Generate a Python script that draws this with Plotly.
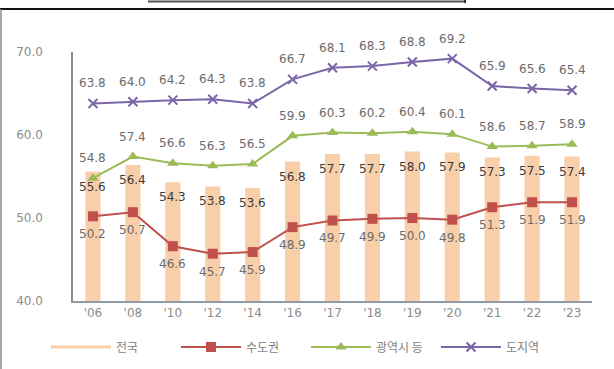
import plotly.graph_objects as go

# Survey years
years = ["'06", "'08", "'10", "'12", "'14", "'16", "'17", "'18", "'19", "'20", "'21", "'22", "'23"]

# Rates by region (%)
nationwide = [55.6, 56.4, 54.3, 53.8, 53.6, 56.8, 57.7, 57.7, 58.0, 57.9, 57.3, 57.5, 57.4]
capital_area = [50.2, 50.7, 46.6, 45.7, 45.9, 48.9, 49.7, 49.9, 50.0, 49.8, 51.3, 51.9, 51.9]
metro_cities = [54.8, 57.4, 56.6, 56.3, 56.5, 59.9, 60.3, 60.2, 60.4, 60.1, 58.6, 58.7, 58.9]
provinces = [63.8, 64.0, 64.2, 64.3, 63.8, 66.7, 68.1, 68.3, 68.8, 69.2, 65.9, 65.6, 65.4]

y_ticks = [40, 50, 60, 70]

W, H = 614, 369
ML, MR, MT, MB = 73, 22, 52, 68

BAR_C = "#f9cfa9"
RED = "#c0504d"
GREEN = "#9bbb59"
PURPLE = "#7a66a8"
LABEL_FONT = "DejaVu Sans"
KR_FONT = "Noto Sans CJK KR"

fig = go.Figure()

fig.add_trace(go.Bar(x=years, y=nationwide, marker=dict(color=BAR_C, line=dict(width=0)),
                     width=0.38, showlegend=False, hoverinfo="skip"))
# legend entry for the bars, drawn as a line swatch
fig.add_trace(go.Scatter(x=[None], y=[None], mode="lines", name="전국",
                         line=dict(color=BAR_C, width=3)))
fig.add_trace(go.Scatter(x=years, y=capital_area, mode="lines+markers", name="수도권",
                         line=dict(color=RED, width=2),
                         marker=dict(symbol="square", size=10, color=RED)))
fig.add_trace(go.Scatter(x=years, y=metro_cities, mode="lines+markers", name="광역시 등",
                         line=dict(color=GREEN, width=2),
                         marker=dict(symbol="triangle-up", size=10, color=GREEN)))
fig.add_trace(go.Scatter(x=years, y=provinces, mode="lines+markers", name="도지역",
                         line=dict(color=PURPLE, width=2),
                         marker=dict(symbol="x-thin", size=9, line=dict(color=PURPLE, width=2))))

annotations = []


def add_labels(values, shift, color):
    for x, v in zip(years, values):
        annotations.append(dict(x=x, y=v, text=f"{v:.1f}", showarrow=False, yshift=shift,
                                font=dict(family=LABEL_FONT, size=12, color=color)))


add_labels(provinces, 20, "#6b6b6b")
add_labels(metro_cities, 20, "#6b6b6b")
add_labels(nationwide, -15, "#3a3a3a")
add_labels(capital_area, -18, "#6b6b6b")

pw = W - ML - MR
ph = H - MT - MB


def px_x(px):
    return (px - ML) / pw


def px_y(py):
    return (H - MB - py) / ph


shapes = [
    # page frame: heavy top rule and thin left edge
    dict(type="line", xref="paper", yref="paper", x0=px_x(0), x1=px_x(W), y0=px_y(9), y1=px_y(9),
         line=dict(color="#111111", width=2)),
    dict(type="line", xref="paper", yref="paper", x0=px_x(1), x1=px_x(1), y0=px_y(9), y1=px_y(H),
         line=dict(color="#8a8a8a", width=1.5)),
    # rule under the heading above the frame
    dict(type="line", xref="paper", yref="paper", x0=px_x(148), x1=px_x(466), y0=px_y(1.5), y1=px_y(1.5),
         line=dict(color="#555555", width=2)),
    dict(type="line", xref="paper", yref="paper", x0=px_x(465), x1=px_x(465), y0=px_y(0), y1=px_y(3),
         line=dict(color="#333333", width=2)),
]

fig.update_layout(
    width=W, height=H,
    margin=dict(l=ML, r=MR, t=MT, b=MB, autoexpand=False),
    paper_bgcolor="white", plot_bgcolor="white",
    font=dict(family=LABEL_FONT, size=12, color="#8c8c8c"),
    annotations=annotations,
    shapes=shapes,
    legend=dict(orientation="h", xref="container", yref="container",
                x=306 / W, xanchor="center", y=(H - 347) / H, yanchor="middle",
                font=dict(family=KR_FONT, size=12, color="#7f7f7f"), itemwidth=60,
                entrywidth=55, traceorder="normal"),
    xaxis=dict(type="category", range=[-0.5, 12.5], showline=True, linecolor="#8e9aaa", linewidth=1.5,
               showgrid=False, ticks="", tickfont=dict(family=LABEL_FONT, size=12, color="#8c8c8c")),
    yaxis=dict(range=[40, 70], tickvals=y_ticks, tickformat=".1f", showline=True,
               linecolor="#8c8c8c", linewidth=1.5, showgrid=False, zeroline=False, ticks="",
               ticklabelstandoff=26, tickfont=dict(family=LABEL_FONT, size=12, color="#8c8c8c")),
)

fig.write_html("out.html")
